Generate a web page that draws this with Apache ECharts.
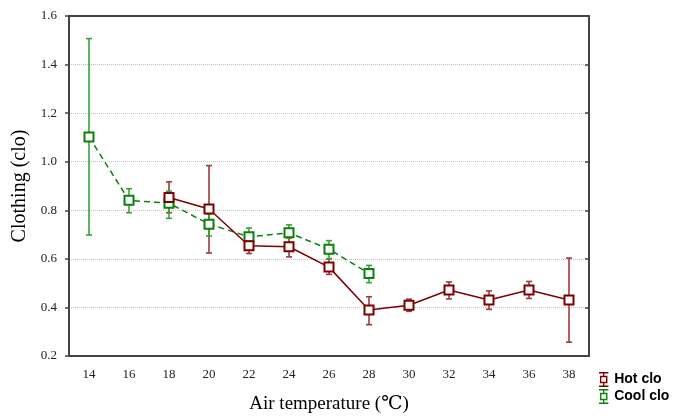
<!DOCTYPE html>
<html>
<head>
<meta charset="utf-8">
<script src="https://cdn.jsdelivr.net/npm/echarts@6/dist/echarts.min.js"></script>
<style>
  html, body { margin: 0; padding: 0; background: #fff; }
  #main { width: 683px; height: 419px; }
</style>
</head>
<body>
<div id="main"></div>
<script>
// air temperature categories
var temps = ["14", "16", "18", "20", "22", "24", "26", "28", "30", "32", "34", "36", "38"];

// Hot clo: mean and error range
var hotMean = [null, null, 0.853, 0.805, 0.654, 0.650, 0.566, 0.389, 0.409, 0.472, 0.431, 0.472, 0.431];
var hotLow  = [null, null, 0.790, 0.624, 0.622, 0.608, 0.536, 0.329, 0.384, 0.435, 0.392, 0.437, 0.257];
var hotHigh = [null, null, 0.917, 0.984, 0.685, 0.687, 0.600, 0.444, 0.434, 0.505, 0.468, 0.507, 0.603];

// Cool clo: mean and error range
var coolMean = [1.102, 0.841, 0.829, 0.743, 0.691, 0.707, 0.640, 0.540, null, null, null, null, null];
var coolLow  = [0.698, 0.790, 0.767, 0.694, 0.655, 0.686, 0.601, 0.502, null, null, null, null, null];
var coolHigh = [1.507, 0.889, 0.879, 0.785, 0.727, 0.740, 0.675, 0.573, null, null, null, null, null];

var hotColor = "#7f0000", hotErr = "#9e3a3a";
var coolColor = "#0a820a", coolErr = "#3d9e3d";

function errData(low, high) {
  var out = [];
  for (var i = 0; i < low.length; i++) {
    if (low[i] != null) out.push([i, low[i], high[i]]);
  }
  return out;
}

function errRender(color) {
  return function (params, api) {
    var lo = api.coord([api.value(0), api.value(1)]);
    var hi = api.coord([api.value(0), api.value(2)]);
    var w = 3;
    var st = { stroke: color, lineWidth: 1.6 };
    return {
      type: "group",
      children: [
        { type: "line", shape: { x1: lo[0], y1: lo[1], x2: hi[0], y2: hi[1] }, style: st },
        { type: "line", shape: { x1: lo[0] - w, y1: lo[1], x2: lo[0] + w, y2: lo[1] }, style: st },
        { type: "line", shape: { x1: hi[0] - w, y1: hi[1], x2: hi[0] + w, y2: hi[1] }, style: st }
      ]
    };
  };
}

// legend icon: square with error bar caps
var iconPath = "path://M2,0H12V1.5H2Z M6.3,1.5H7.7V4H6.3Z M3,4H11V12H3Z M4.5,5.5V10.5H9.5V5.5Z M6.3,12H7.7V14.5H6.3Z M2,14.5H12V16H2Z";

var serif = "'Liberation Serif', 'DejaVu Serif', serif";

var myChart = echarts.init(document.getElementById("main"));

var option = {
  animation: false,
  backgroundColor: "#fff",
  grid: { left: 69, right: 94, top: 16, bottom: 60, containLabel: false },
  legend: {
    orient: "vertical",
    left: 594,
    top: 367,
    itemWidth: 13,
    itemHeight: 15,
    itemGap: 2,
    textStyle: { fontFamily: "'Liberation Sans', Arial, sans-serif", fontWeight: "bold", fontSize: 14, color: "#000", padding: [0, 0, 0, -1] },
    data: [
      { name: "Hot clo", icon: iconPath, itemStyle: { color: hotColor, borderWidth: 0 } },
      { name: "Cool clo", icon: iconPath, itemStyle: { color: coolColor, borderWidth: 0 } }
    ]
  },
  xAxis: [
    {
      type: "category",
      data: temps,
      boundaryGap: true,
      name: "Air temperature (℃)",
      nameLocation: "middle",
      nameGap: 39,
      nameTextStyle: { fontFamily: serif, fontSize: 19, color: "#000" },
      axisLine: { lineStyle: { color: "#444", width: 2 } },
      axisTick: { alignWithLabel: true, length: 4, lineStyle: { color: "#444", width: 1.5 } },
      axisLabel: { fontFamily: serif, fontSize: 13, color: "#222", margin: 12 },
      splitLine: { show: false }
    },
    {
      type: "category",
      data: temps,
      position: "top",
      boundaryGap: true,
      axisLine: { lineStyle: { color: "#444", width: 2 } },
      axisTick: { alignWithLabel: true, inside: true, length: 4, lineStyle: { color: "#444", width: 1.5 } },
      axisLabel: { show: false },
      splitLine: { show: false }
    }
  ],
  yAxis: [
    {
      type: "value",
      min: 0.2,
      max: 1.6,
      interval: 0.2,
      name: "Clothing (clo)",
      nameLocation: "middle",
      nameGap: 36,
      nameTextStyle: { fontFamily: serif, fontSize: 20, color: "#000" },
      axisLine: { show: true, lineStyle: { color: "#444", width: 2 } },
      axisTick: { show: true, length: 4, lineStyle: { color: "#444", width: 1.5 } },
      axisLabel: {
        fontFamily: serif, fontSize: 13, color: "#222", margin: 12,
        formatter: function (v) { return v.toFixed(1); }
      },
      splitLine: {
        show: true,
        lineStyle: { color: "#c4c4c4", type: "dotted", width: 1 }
      }
    },
    {
      type: "value",
      min: 0.2,
      max: 1.6,
      interval: 0.2,
      position: "right",
      axisLine: { show: true, lineStyle: { color: "#444", width: 2 } },
      axisTick: { show: true, inside: true, length: 4, lineStyle: { color: "#444", width: 1.5 } },
      axisLabel: { show: false },
      splitLine: { show: false }
    }
  ],
  series: [
    {
      name: "Hot clo err",
      type: "custom",
      renderItem: errRender(hotErr),
      data: errData(hotLow, hotHigh),
      encode: { x: 0, y: [1, 2] },
      z: 2,
      silent: true
    },
    {
      name: "Cool clo err",
      type: "custom",
      renderItem: errRender(coolErr),
      data: errData(coolLow, coolHigh),
      encode: { x: 0, y: [1, 2] },
      z: 2,
      silent: true
    },
    {
      name: "Cool clo",
      type: "line",
      data: coolMean,
      color: coolColor,
      symbol: "emptyRect",
      symbolSize: 9,
      lineStyle: { color: coolColor, width: 1.5, type: [6, 4] },
      itemStyle: { color: coolColor, borderWidth: 1.3 },
      z: 3
    },
    {
      name: "Hot clo",
      type: "line",
      data: hotMean,
      color: hotColor,
      symbol: "emptyRect",
      symbolSize: 9,
      lineStyle: { color: hotColor, width: 1.5 },
      itemStyle: { color: hotColor, borderWidth: 1.3 },
      z: 4
    }
  ]
};
myChart.setOption(option);
</script>
</body>
</html>
